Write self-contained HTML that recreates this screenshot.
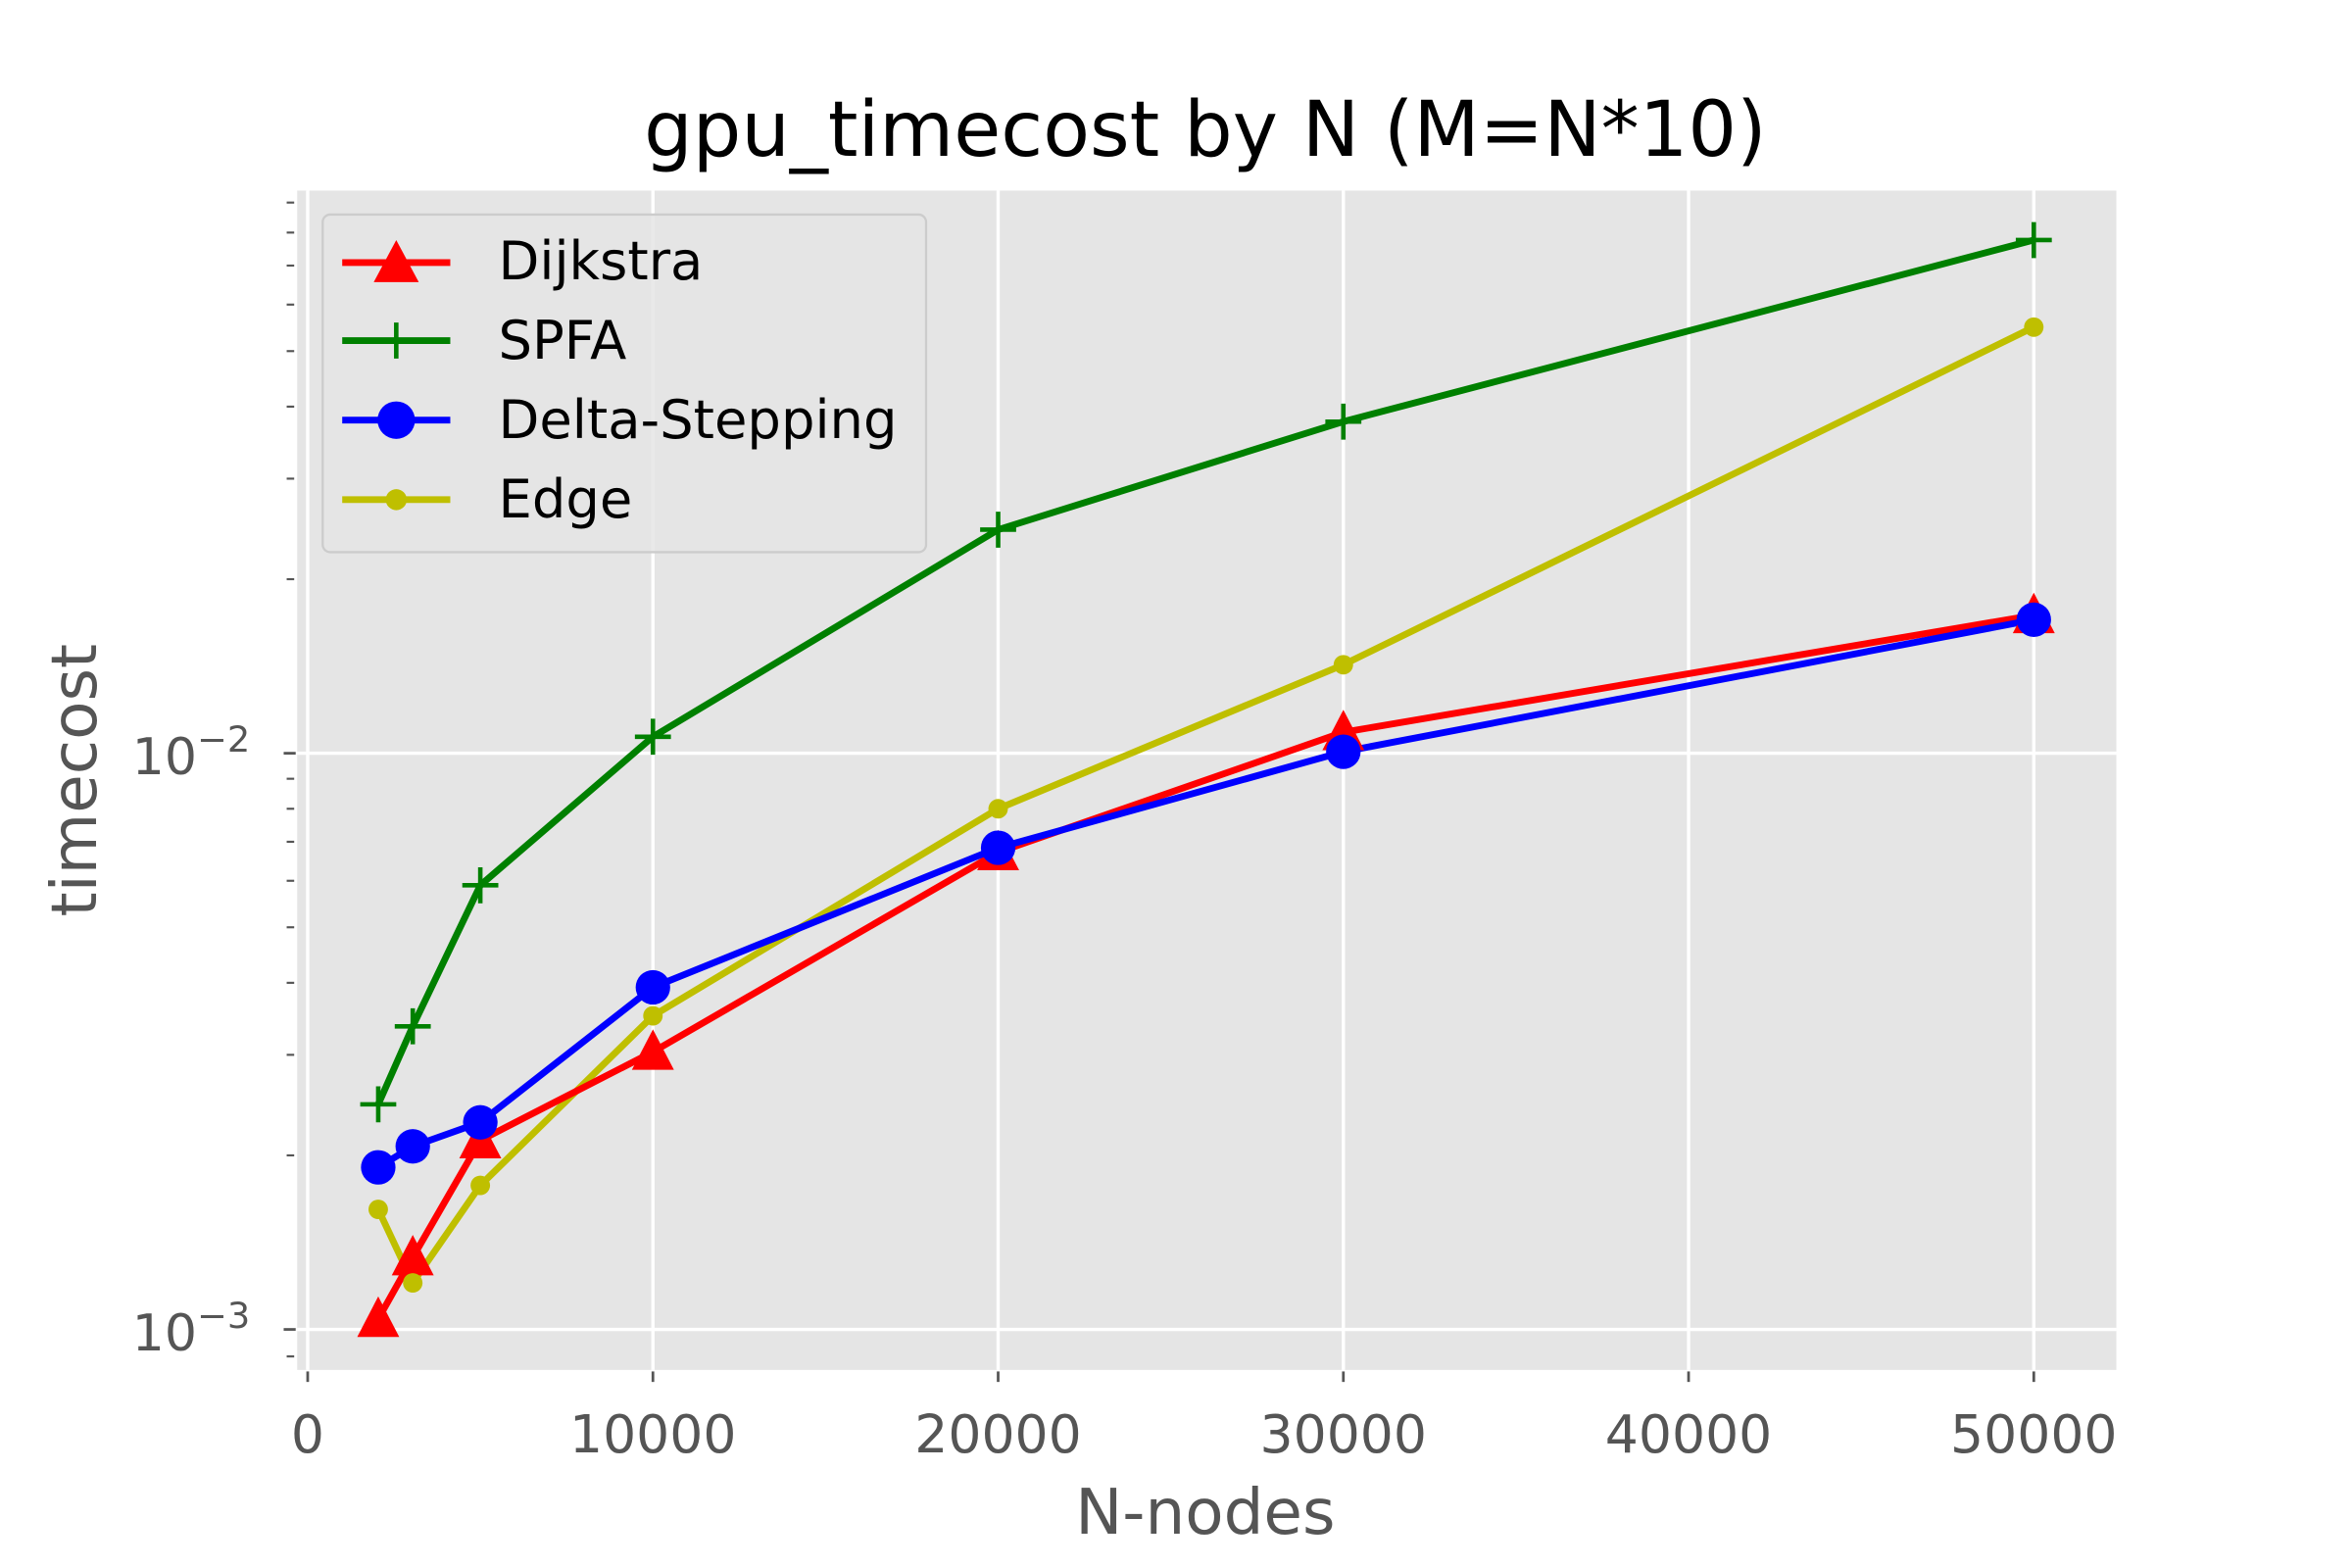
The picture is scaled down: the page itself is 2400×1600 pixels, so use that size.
<!DOCTYPE html>
<html><head><meta charset="utf-8"><style>html,body{margin:0;padding:0;background:#fff}svg{display:block}</style></head><body>
<svg width="2400" height="1600" viewBox="0 0 1567 1045" preserveAspectRatio="none" xmlns="http://www.w3.org/2000/svg" font-family="DejaVu Sans, sans-serif">
<rect width="1567" height="1045" fill="#fff"/>
<rect x="198" y="127" width="1212" height="786" fill="#e5e5e5"/>
<g stroke="#fff" stroke-width="2.2">
<line x1="205" y1="127" x2="205" y2="913"/><line x1="435" y1="127" x2="435" y2="913"/><line x1="665" y1="127" x2="665" y2="913"/><line x1="895" y1="127" x2="895" y2="913"/><line x1="1125" y1="127" x2="1125" y2="913"/><line x1="1355" y1="127" x2="1355" y2="913"/>
<line x1="198" y1="502" x2="1410" y2="502"/><line x1="198" y1="886" x2="1410" y2="886"/>
</g>
<g stroke="#555" stroke-width="1.8">
<line x1="205" y1="914" x2="205" y2="921"/><line x1="435" y1="914" x2="435" y2="921"/><line x1="665" y1="914" x2="665" y2="921"/><line x1="895" y1="914" x2="895" y2="921"/><line x1="1125" y1="914" x2="1125" y2="921"/><line x1="1355" y1="914" x2="1355" y2="921"/>
<line x1="189" y1="502" x2="197" y2="502"/><line x1="189" y1="886" x2="197" y2="886"/>
</g>
<g stroke="#555" stroke-width="1.4">
<line x1="191" y1="904" x2="196" y2="904"/>
<line x1="191" y1="770" x2="196" y2="770"/><line x1="191" y1="703" x2="196" y2="703"/><line x1="191" y1="655" x2="196" y2="655"/><line x1="191" y1="618" x2="196" y2="618"/><line x1="191" y1="587" x2="196" y2="587"/><line x1="191" y1="561" x2="196" y2="561"/><line x1="191" y1="539" x2="196" y2="539"/><line x1="191" y1="519" x2="196" y2="519"/>
<line x1="191" y1="386" x2="196" y2="386"/><line x1="191" y1="319" x2="196" y2="319"/><line x1="191" y1="271" x2="196" y2="271"/><line x1="191" y1="234" x2="196" y2="234"/><line x1="191" y1="203" x2="196" y2="203"/><line x1="191" y1="177" x2="196" y2="177"/><line x1="191" y1="155" x2="196" y2="155"/><line x1="191" y1="135" x2="196" y2="135"/>
</g>
<g fill="#555" font-size="35" text-anchor="middle">
<text x="205" y="968">0</text><text x="435" y="968">10000</text><text x="665" y="968">20000</text><text x="895" y="968">30000</text><text x="1125" y="968">40000</text><text x="1355" y="968">50000</text>
</g>
<g fill="#555" font-size="34">
<text x="88" y="516">10<tspan font-size="24" dy="-15">−2</tspan></text>
<text x="88" y="900">10<tspan font-size="24" dy="-15">−3</tspan></text>
</g>
<text x="803" y="1022" fill="#555" font-size="42" text-anchor="middle">N-nodes</text>
<text transform="translate(64,520) rotate(-90)" fill="#555" font-size="42" text-anchor="middle">timecost</text>
<text x="803" y="104" fill="#000" font-size="51" text-anchor="middle">gpu_timecost by N (M=N*10)</text>
<g fill="none" stroke-width="4.5" stroke-linejoin="round">
<polyline stroke="#008000" points="252,736 275,684 320,590 435,491 665,353 895,281 1355,160"/>
<polyline stroke="#bfbf00" points="252,806 275,855 320,790 435,677 665,539 895,443 1355,218"/>
<polyline stroke="#f00" points="252,879 275,838 320,760 435,701 665,568 895,488 1355,410"/>
<polyline stroke="#00f" points="252,778 275,764 320,748 435,658 665,565 895,501 1355,413"/>
</g>
<g stroke="#008000" stroke-width="3">
<path d="M240 736h24M252 724v24M263 684h24M275 672v24M308 590h24M320 578v24M423 491h24M435 479v24M653 353h24M665 341v24M883 281h24M895 269v24M1343 160h24M1355 148v24"/>
</g>
<g fill="#f00">
<path d="M252 864l14 27h-28zM275 823l14 27h-28zM320 745l14 27h-28zM435 686l14 27h-28zM665 553l14 27h-28zM895 473l14 27h-28zM1355 395l14 27h-28z"/>
</g>
<g fill="#00f">
<circle cx="252" cy="778" r="11.5"/><circle cx="275" cy="764" r="11.5"/><circle cx="320" cy="748" r="11.5"/><circle cx="435" cy="658" r="11.5"/><circle cx="665" cy="565" r="11.5"/><circle cx="895" cy="501" r="11.5"/><circle cx="1355" cy="413" r="11.5"/>
</g>
<g fill="#bfbf00">
<circle cx="252" cy="806" r="6.5"/><circle cx="275" cy="855" r="6.5"/><circle cx="320" cy="790" r="6.5"/><circle cx="435" cy="677" r="6.5"/><circle cx="665" cy="539" r="6.5"/><circle cx="895" cy="443" r="6.5"/><circle cx="1355" cy="218" r="6.5"/>
</g>
<rect x="215" y="143" width="402" height="225" rx="5" fill="#e5e5e5" fill-opacity="0.85" stroke="#ccc" stroke-width="1.5"/>
<g stroke-width="4.5">
<line x1="228" y1="175" x2="300" y2="175" stroke="#f00"/>
<line x1="228" y1="227" x2="300" y2="227" stroke="#008000"/>
<line x1="228" y1="280" x2="300" y2="280" stroke="#00f"/>
<line x1="228" y1="333" x2="300" y2="333" stroke="#bfbf00"/>
</g>
<path d="M264 160l15 28h-30z" fill="#f00"/>
<path d="M252 227h24M264 215v24" stroke="#008000" stroke-width="3"/>
<circle cx="264" cy="280" r="12.5" fill="#00f"/>
<circle cx="264" cy="333" r="7" fill="#bfbf00"/>
<g fill="#000" font-size="35.5">
<text x="332" y="186">Dijkstra</text><text x="332" y="239">SPFA</text><text x="332" y="292">Delta-Stepping</text><text x="332" y="345">Edge</text>
</g>
</svg>
</body></html>
